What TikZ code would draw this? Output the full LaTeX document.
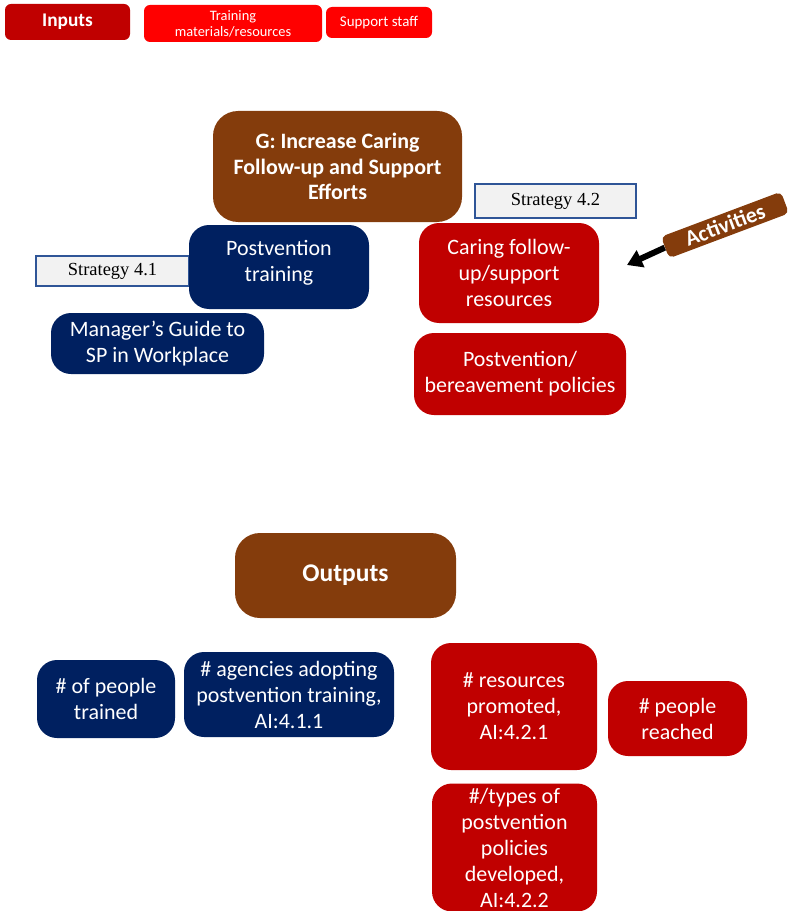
\documentclass[tikz,border=0pt]{standalone}
\usepackage{fontspec}
\setmainfont{Carlito}
\newfontfamily\stratfont{Liberation Serif}
\usetikzlibrary{arrows.meta, positioning}

\definecolor{navyblue}{HTML}{002060}
\definecolor{darkred}{HTML}{C00000}
\definecolor{brightred}{HTML}{FF0000}
\definecolor{goalbrown}{HTML}{843C0C}
\definecolor{stratblue}{HTML}{2F5597}
\definecolor{stratgray}{HTML}{F2F2F2}

\begin{document}
\begin{tikzpicture}[
        box/.style={rounded corners=0.4cm, text=white, align=center, inner sep=1pt, font=\fontsize{12.5}{14.8}\selectfont},
        navybox/.style={box, fill=navyblue},
        redbox/.style={box, fill=darkred},
        brownbox/.style={box, fill=goalbrown, rounded corners=0.5cm, font=\bfseries\fontsize{12.5}{14.5}\selectfont},
        inputbox/.style={rounded corners=0.12cm, text=white, align=center, inner sep=1pt}
    ]

    \tikzset{
    strategy/.style={draw=stratblue, fill=stratgray, line width=0.8pt, font=\stratfont\fontsize{10.5}{12}\selectfont},
    actarrow/.style={-{Triangle[length=0.3cm, width=0.36cm]}, line width=0.12cm, black}
}

    \useasboundingbox (0,0) rectangle (15.92,-18.22);

    \node (inp) [inputbox, fill=darkred, minimum width=2.5cm, minimum height=0.72cm, font=\bfseries\fontsize{11}{13}\selectfont] at (1.35,-0.44) {Inputs};
    \node (train) [inputbox, fill=brightred, minimum width=3.56cm, minimum height=0.74cm, font=\fontsize{8.2}{9.2}\selectfont] at (4.66,-0.47) {Training\\materials/resources};
    \node (staff) [inputbox, fill=brightred, minimum width=2.12cm, minimum height=0.62cm, font=\fontsize{8.5}{9.5}\selectfont] at (7.58,-0.45) {Support staff};

    \node (goal) [brownbox, minimum width=4.98cm, minimum height=2.22cm] at (6.75,-3.33) {G: Increase Caring\\Follow-up and Support\\Efforts};

    \node (s42) [strategy, minimum width=3.22cm, minimum height=0.68cm] at (11.11,-4.02) {Strategy 4.2};
    \node (s41) [strategy, minimum width=3.06cm, minimum height=0.6cm] at (2.25,-5.42) {Strategy 4.1};

    \node (ptrain) [navybox, minimum width=3.6cm, minimum height=1.68cm, text depth=0.25cm] at (5.58,-5.34) {Postvention\\training};
    \node (guide) [navybox, minimum width=4.26cm, minimum height=1.22cm] at (3.15,-6.87) {Manager’s Guide to\\SP in Workplace};
    \node (caring) [redbox, minimum width=3.6cm, minimum height=2.0cm] at (10.18,-5.46) {Caring follow-\\up/support\\resources};
    \node (policy) [redbox, minimum width=4.24cm, minimum height=1.64cm] at (10.4,-7.48) {Postvention/\\bereavement policies};

    \node (act) [fill=goalbrown, text=white, rounded corners=0.1cm, rotate=20.6, minimum width=2.56cm, minimum height=0.46cm, inner sep=0.5pt, font=\bfseries\fontsize{12.5}{13}\selectfont] at (14.5,-4.5) {Activities};
    \coordinate (acttip) at (12.54,-5.3);
    \draw[actarrow] (act.west) -- (acttip);

    \node (out) [brownbox, minimum width=4.42cm, minimum height=1.7cm, font=\bfseries\fontsize{14.5}{17}\selectfont] at (6.91,-11.51) {Outputs};

    \node (ppl) [navybox, minimum width=2.76cm, minimum height=1.56cm] at (2.12,-13.98) {\# of people\\trained};
    \node (agency) [navybox, minimum width=4.2cm, minimum height=1.7cm] at (5.78,-13.89) {\# agencies adopting\\postvention training,\\AI:4.1.1};
    \node (res) [redbox, minimum width=3.32cm, minimum height=2.54cm] at (10.28,-14.13) {\# resources\\promoted,\\AI:4.2.1};
    \node (reach) [redbox, minimum width=2.78cm, minimum height=1.5cm] at (13.55,-14.37) {\# people\\reached};
    \node (types) [redbox, minimum width=3.3cm, minimum height=2.56cm] at (10.29,-16.95) {\#/types of\\postvention\\policies\\developed,\\AI:4.2.2};
\end{tikzpicture}
\end{document}
